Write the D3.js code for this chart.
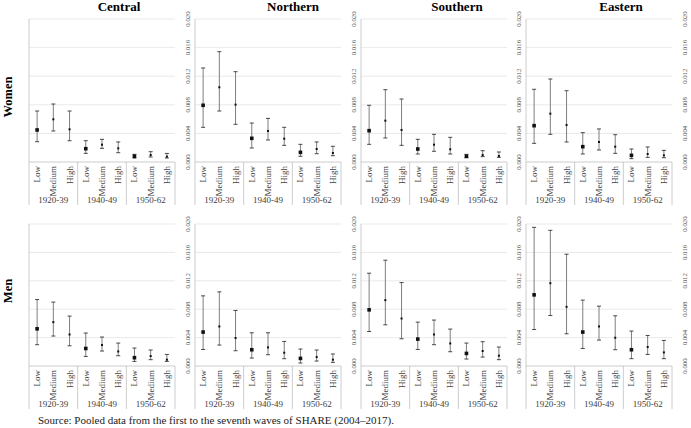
<!DOCTYPE html>
<html>
<head>
<meta charset="utf-8">
<script src="https://cdn.jsdelivr.net/npm/d3@7"></script>
<style>
  body { margin: 0; background: #fff; }
</style>
</head>
<body>
<div id="chart"></div>
<script>
// categories
var regions = ["Central", "Northern", "Southern", "Eastern"];
var sexes = ["Women", "Men"];
var cohorts = ["1920-39", "1940-49", "1950-62"];
var levels = ["Low", "Medium", "High"];
var yTicks = [0, 0.004, 0.008, 0.012, 0.016, 0.020];

// [estimate, lower, upper] in cohort x level order
var womenCentral = [[0.00448, 0.00284, 0.00713], [0.00597, 0.00434, 0.00811], [0.00457, 0.00298, 0.00713],
                    [0.00186, 0.00121, 0.00298], [0.00242, 0.00191, 0.00317], [0.00191, 0.00130, 0.00280],
                    [0.00080, 0.00056, 0.00107], [0.00098, 0.00070, 0.00144], [0.00075, 0.00056, 0.00120]];
var womenNorthern = [[0.00793, 0.00485, 0.01315], [0.01045, 0.00713, 0.01543], [0.00802, 0.00527, 0.01263],
                     [0.00331, 0.00196, 0.00545], [0.00434, 0.00308, 0.00610], [0.00326, 0.00233, 0.00485],
                     [0.00135, 0.00080, 0.00247], [0.00182, 0.00116, 0.00280], [0.00126, 0.00088, 0.00220]];
var womenSouthern = [[0.00438, 0.00247, 0.00793], [0.00578, 0.00336, 0.01011], [0.00448, 0.00233, 0.00881],
                     [0.00182, 0.00112, 0.00317], [0.00242, 0.00150, 0.00387], [0.00178, 0.00112, 0.00345],
                     [0.00080, 0.00060, 0.00107], [0.00098, 0.00075, 0.00158], [0.00084, 0.00065, 0.00140]];
var womenEastern = [[0.00508, 0.00261, 0.01017], [0.00676, 0.00387, 0.01161], [0.00517, 0.00280, 0.00997],
                    [0.00214, 0.00112, 0.00410], [0.00280, 0.00168, 0.00462], [0.00214, 0.00121, 0.00382],
                    [0.00093, 0.00047, 0.00182], [0.00112, 0.00065, 0.00210], [0.00093, 0.00060, 0.00163]];
var menCentral = [[0.00524, 0.00300, 0.00936], [0.00618, 0.00422, 0.00900], [0.00444, 0.00285, 0.00703],
                  [0.00247, 0.00135, 0.00464], [0.00295, 0.00211, 0.00408], [0.00205, 0.00145, 0.00323],
                  [0.00117, 0.00065, 0.00253], [0.00140, 0.00089, 0.00225], [0.00089, 0.00065, 0.00163]];
var menNorthern = [[0.00478, 0.00233, 0.00988], [0.00557, 0.00295, 0.01044], [0.00394, 0.00215, 0.00782],
                   [0.00229, 0.00112, 0.00468], [0.00262, 0.00159, 0.00468], [0.00187, 0.00103, 0.00346],
                   [0.00107, 0.00042, 0.00239], [0.00126, 0.00070, 0.00225], [0.00089, 0.00051, 0.00169]];
var menSouthern = [[0.00791, 0.00486, 0.01307], [0.00928, 0.00580, 0.01490], [0.00669, 0.00384, 0.01175],
                   [0.00379, 0.00233, 0.00618], [0.00444, 0.00300, 0.00647], [0.00318, 0.00201, 0.00520],
                   [0.00177, 0.00098, 0.00323], [0.00211, 0.00126, 0.00342], [0.00145, 0.00089, 0.00267]];
var menEastern = [[0.01002, 0.00514, 0.01953], [0.01166, 0.00711, 0.01911], [0.00833, 0.00454, 0.01574],
                  [0.00478, 0.00247, 0.00928], [0.00557, 0.00365, 0.00843], [0.00398, 0.00229, 0.00707],
                  [0.00229, 0.00103, 0.00492], [0.00267, 0.00163, 0.00430], [0.00191, 0.00103, 0.00360]];

var panelData = [
  [womenCentral, womenNorthern, womenSouthern, womenEastern],
  [menCentral, menNorthern, menSouthern, menEastern]
];

// layout
var width = 691, height = 428;
var plotLeft = [29, 195, 361, 526],
    plotW = 146,
    rowTop = [19, 224],
    rowBase = [162, 366],
    rowLabelY = [97, 291],
    titleX = [119, 293, 457, 621],
    formatTick = d3.format(".3f");

var svg = d3.select("#chart")
  .append("svg")
  .attr("width", width)
  .attr("height", height)
  .attr("font-family", "'Liberation Serif', 'DejaVu Serif', serif");

// region titles
svg.selectAll(".title")
  .data(regions)
  .enter().append("text")
  .attr("x", function(d, i) { return titleX[i]; })
  .attr("y", 11)
  .attr("text-anchor", "middle")
  .attr("font-size", 13)
  .attr("font-weight", "bold")
  .text(function(d) { return d; });

// row labels
svg.selectAll(".rowlab")
  .data(sexes)
  .enter().append("text")
  .attr("transform", function(d, r) {
    return "translate(12," + rowLabelY[r] + ") rotate(-90)";
  })
  .attr("text-anchor", "middle")
  .attr("font-size", 12.5)
  .attr("font-weight", "bold")
  .text(function(d) { return d; });

sexes.forEach(function(sex, r) {
  var y = d3.scaleLinear().domain([0, 0.020]).range([rowBase[r], rowTop[r]]);

  regions.forEach(function(region, c) {
    var x0 = plotLeft[c];
    var g = svg.append("g");

    var xCohort = d3.scaleBand().domain(cohorts).range([x0, x0 + plotW]);
    var xLevel = d3.scaleBand().domain(levels).range([0, xCohort.bandwidth()]);

    // gridlines
    g.selectAll(".grid")
      .data(yTicks.slice(1))
      .enter().append("line")
      .attr("x1", x0).attr("x2", x0 + plotW)
      .attr("y1", function(d) { return y(d); })
      .attr("y2", function(d) { return y(d); })
      .attr("stroke", "#e3e3e3")
      .attr("stroke-width", 0.8);

    // baseline + left axis line
    g.append("line")
      .attr("x1", x0).attr("x2", x0 + plotW)
      .attr("y1", y(0)).attr("y2", y(0))
      .attr("stroke", "#bfbfbf").attr("stroke-width", 0.8);
    g.append("line")
      .attr("x1", x0).attr("x2", x0)
      .attr("y1", y(0.020)).attr("y2", rowBase[r] + 43)
      .attr("stroke", "#bfbfbf").attr("stroke-width", 0.8);

    // cohort separators
    g.selectAll(".sep")
      .data(cohorts)
      .enter().append("line")
      .attr("x1", function(d) { return xCohort(d) + xCohort.bandwidth(); })
      .attr("x2", function(d) { return xCohort(d) + xCohort.bandwidth(); })
      .attr("y1", y(0)).attr("y2", rowBase[r] + 43)
      .attr("stroke", "#bfbfbf").attr("stroke-width", 0.8);

    // y tick labels (not on first column)
    if (c > 0) {
      g.selectAll(".ytick")
        .data(yTicks)
        .enter().append("text")
        .attr("transform", function(d) {
          return "translate(" + (x0 - 5) + "," + y(d) + ") rotate(-90)";
        })
        .attr("text-anchor", "middle")
        .attr("font-size", 6.8)
        .attr("fill", "#595959")
        .text(function(d) { return formatTick(d); });
    }
    if (c === regions.length - 1) {
      g.selectAll(".ytick2")
        .data(yTicks)
        .enter().append("text")
        .attr("transform", function(d) {
          return "translate(" + (x0 + plotW + 15) + "," + y(d) + ") rotate(-90)";
        })
        .attr("text-anchor", "middle")
        .attr("font-size", 6.8)
        .attr("fill", "#595959")
        .text(function(d) { return formatTick(d); });
    }

    // category labels
    var cats = [];
    cohorts.forEach(function(co) {
      levels.forEach(function(lv) { cats.push({cohort: co, level: lv}); });
    });
    g.selectAll(".lvl")
      .data(cats)
      .enter().append("text")
      .attr("transform", function(d) {
        var cx = xCohort(d.cohort) + xLevel(d.level) + xLevel.bandwidth() / 2 + 3;
        return "translate(" + cx + "," + (rowBase[r] + 4) + ") rotate(-90)";
      })
      .attr("text-anchor", "end")
      .attr("font-size", 9)
      .attr("fill", "#404040")
      .text(function(d) { return d.level; });

    g.selectAll(".coh")
      .data(cohorts)
      .enter().append("text")
      .attr("x", function(d) { return xCohort(d) + xCohort.bandwidth() / 2; })
      .attr("y", rowBase[r] + 41)
      .attr("text-anchor", "middle")
      .attr("font-size", 9)
      .attr("fill", "#404040")
      .text(function(d) { return d; });

    // error bars
    var pts = panelData[r][c].map(function(v, i) {
      return {cohort: cohorts[Math.floor(i / 3)], level: levels[i % 3], est: v[0], lo: v[1], hi: v[2]};
    });
    var cx = function(d) { return xCohort(d.cohort) + xLevel(d.level) + xLevel.bandwidth() / 2; };

    g.selectAll(".bar")
      .data(pts)
      .enter().append("line")
      .attr("x1", cx).attr("x2", cx)
      .attr("y1", function(d) { return y(d.lo); })
      .attr("y2", function(d) { return y(d.hi); })
      .attr("stroke", "#6f6f6f")
      .attr("stroke-width", 0.9);

    ["lo", "hi"].forEach(function(k) {
      g.selectAll(".cap" + k)
        .data(pts)
        .enter().append("line")
        .attr("x1", function(d) { return cx(d) - 2; })
        .attr("x2", function(d) { return cx(d) + 2; })
        .attr("y1", function(d) { return y(d[k]); })
        .attr("y2", function(d) { return y(d[k]); })
        .attr("stroke", "#333")
        .attr("stroke-width", 0.9);
    });

    g.selectAll(".mark")
      .data(pts)
      .enter().append("rect")
      .attr("x", function(d) { var s = d.level === "Low" ? 3.6 : 2; return cx(d) - s / 2; })
      .attr("y", function(d) { var s = d.level === "Low" ? 3.6 : 2; return y(d.est) - s / 2; })
      .attr("width", function(d) { return d.level === "Low" ? 3.6 : 2; })
      .attr("height", function(d) { return d.level === "Low" ? 3.6 : 2; })
      .attr("fill", "#111");
  });
});

// source note
svg.append("text")
  .attr("x", 38)
  .attr("y", 424)
  .attr("font-size", 11)
  .attr("fill", "#222")
  .text("Source: Pooled data from the first to the seventh waves of SHARE (2004\u20132017).");
</script>
</body>
</html>
